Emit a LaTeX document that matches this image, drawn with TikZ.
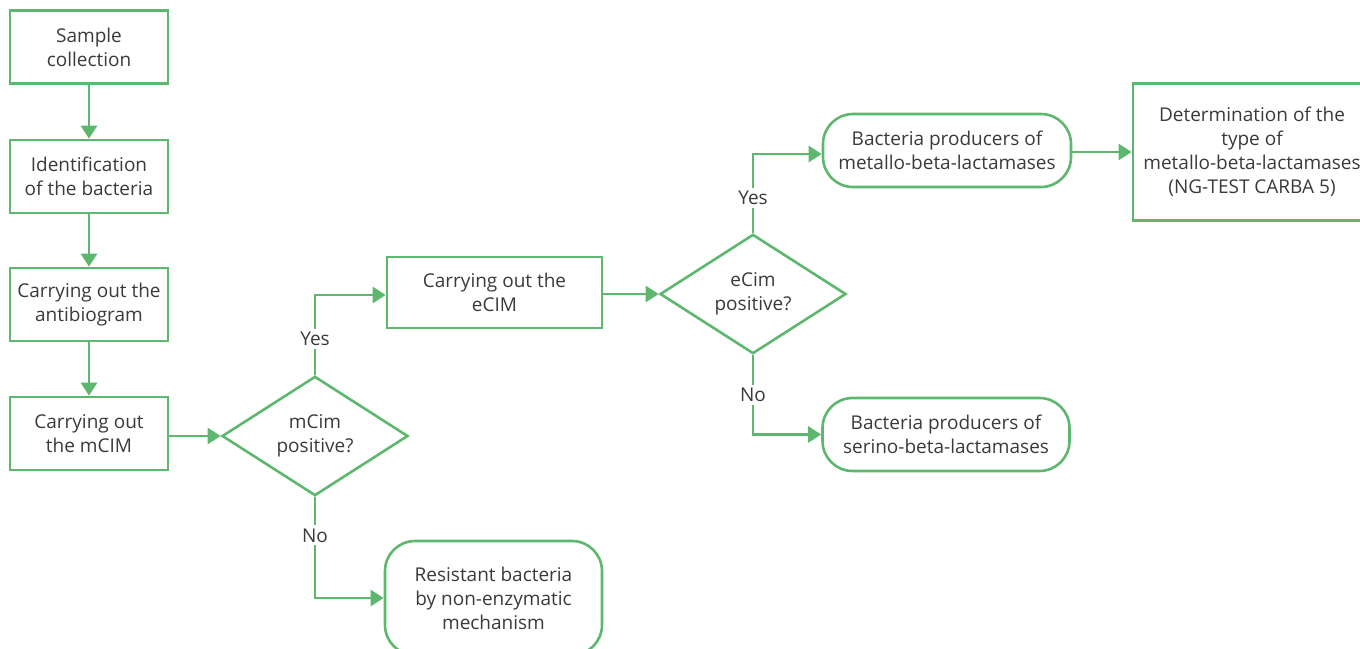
\documentclass[tikz,border=0pt]{standalone}
\usepackage{fontspec}
\setmainfont{Open Sans}
\usetikzlibrary{shapes.geometric,arrows.meta}
\definecolor{grn}{RGB}{94,183,110}
\definecolor{txt}{RGB}{58,58,58}
\tikzset{
  base/.style={draw=grn, line width=2.6pt, text=txt, align=center, inner sep=0pt,
    font=\fontsize{19}{24}\selectfont},
  sq/.style={base, rectangle, minimum width=158pt, minimum height=73pt},
  rnd/.style={base, rectangle, rounded corners=30pt},
  dia/.style={base, diamond, minimum width=186pt, minimum height=117pt},
  conn/.style={draw=grn, line width=2.6pt, -{Triangle[length=13pt,width=16pt]}},
  lbl/.style={fill=white, text=txt, inner sep=3pt, font=\fontsize{19}{24}\selectfont}
}
\begin{document}
\begin{tikzpicture}[x=1pt,y=-1pt]
\useasboundingbox (0,0) rectangle (1360,648);
\node[sq] (s1) at (89,47) {Sample\\collection};
\node[sq] (s2) at (89,176.5) {Identification\\of the bacteria};
\node[sq] (s3) at (89,304.5) {Carrying out the\\antibiogram};
\node[sq] (s4) at (89,433.5) {Carrying out\\the mCIM};
\node[dia] (d1) at (315,436) {mCim\\positive?};
\node[sq, minimum width=215pt, minimum height=71pt] (ecim) at (494.5,292.5) {Carrying out the\\eCIM};
\node[rnd, minimum width=217pt, minimum height=114pt] (res) at (493.5,598) {Resistant bacteria\\by non-enzymatic\\mechanism};
\node[dia] (d2) at (753,294) {eCim\\positive?};
\node[rnd, minimum width=248pt, minimum height=73pt] (mbl) at (947,150.5) {Bacteria producers of\\metallo-beta-lactamases};
\node[rnd, minimum width=247pt, minimum height=73pt] (sbl) at (946,434.5) {Bacteria producers of\\serino-beta-lactamases};
\node[sq, minimum width=238pt, minimum height=137pt] (det) at (1252,152) {Determination of the\\type of\\metallo-beta-lactamases\\(NG-TEST CARBA 5)};

\draw[conn] (s1) -- (s2);
\draw[conn] (s2) -- (s3);
\draw[conn] (s3) -- (s4);
\draw[conn] (s4.east |- d1.west) -- (d1.west);
\draw[conn] (d1.north) |- node[lbl, pos=0.227] (y1) {Yes} ([yshift=-2.5pt]ecim.west);
\draw[conn] (d1.south) |- node[lbl, pos=0.19] (n1) {No} (res.west);
\draw[conn] (ecim.east |- d2.west) -- (d2.west);
\draw[conn] (d2.north) |- node[lbl, pos=0.22] (y2) {Yes} ([yshift=-3.5pt]mbl.west);
\draw[conn] (d2.south) |- node[lbl, pos=0.25] (n2) {No} (sbl.west);
\draw[conn] ([yshift=-1.5pt]mbl.east) -- ([yshift=-1.5pt]mbl.east -| det.west);
\end{tikzpicture}
\end{document}
